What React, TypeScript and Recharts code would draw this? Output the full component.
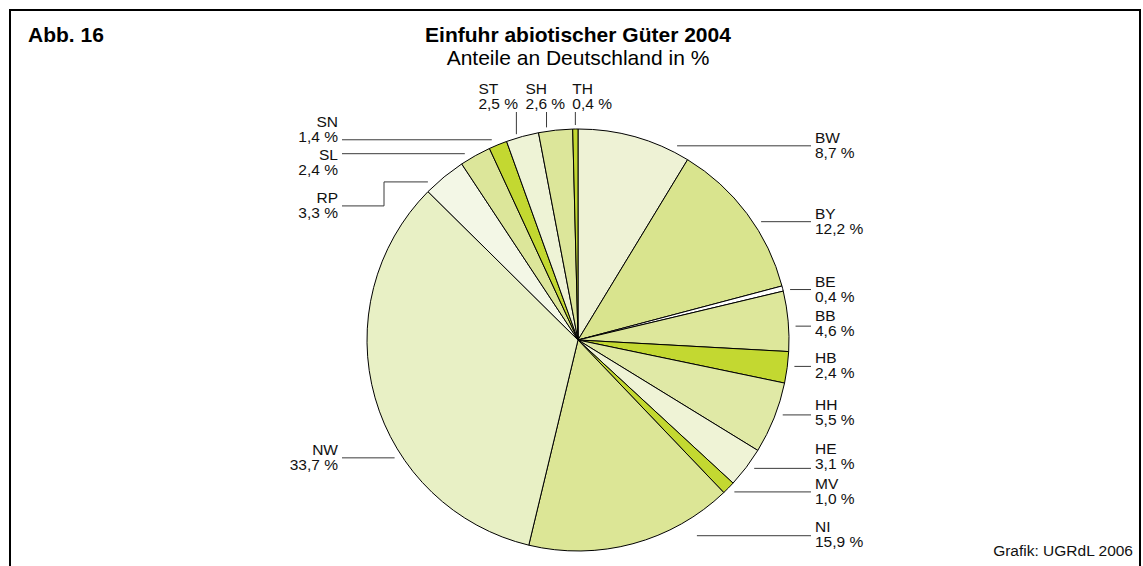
import { PieChart, Pie, Cell } from "recharts";

// Anteile der Länder an der Einfuhr abiotischer Güter 2004, in %
const regions = ["BW", "BY", "BE", "BB", "HB", "HH", "HE", "MV", "NI", "NW", "RP", "SL", "SN", "ST", "SH", "TH"];
const shares = [8.7, 12.2, 0.4, 4.6, 2.4, 5.5, 3.1, 1.0, 15.9, 33.7, 3.3, 2.4, 1.4, 2.5, 2.6, 0.4];
const sliceColors = [
  "#eef2d5", "#d9e48e", "#ffffff", "#dde79b", "#c3d831", "#e0e9a6", "#eff3d6", "#c3d831",
  "#dce696", "#e8f0c5", "#f3f7e6", "#dce69a", "#c3d831", "#eef3d6", "#dce69a", "#c3d831",
];

const figNo = "Abb. 16";
const title = "Einfuhr abiotischer Güter 2004";
const subtitle = "Anteile an Deutschland in %";
const source = "Grafik: UGRdL 2006";

const data = regions.map((name, i) => ({ name, value: shares[i] }));

// hand placement of the labels, like the original (px)
const nudge: Record<string, { dy?: number; ty?: number; gap?: number; dx?: number; tx?: number; elbow?: number }> = {
  BW: { dy: 9 },
  BY: { dy: 8 },
  BE: { dy: 1 },
  BB: { dy: 5, ty: -5 },
  HB: { dy: -1 },
  HH: { dy: -3, ty: -5 },
  HE: { dy: 1, ty: -14 },
  MV: { dy: 4 },
  NI: { dy: -8, gap: 18, ty: -4 },
  NW: { dy: 60 },
  RP: { dy: 29, elbow: 194 },
  SL: { dy: -2, ty: 6 },
  SN: { dy: -5, ty: -13 },
  ST: { dx: -6, tx: -38 },
  SH: { dx: -9, tx: -21 },
  TH: { dx: 0, tx: -3 },
};

const RAD = Math.PI / 180;
const FONT = "'Liberation Sans', Arial, sans-serif";
const LINE = "#3a3a3a";

const fmt = (v: number) => `${v.toFixed(1).replace(".", ",")} %`;

const renderLabel = (p: any) => {
  const { cx, cy, midAngle, outerRadius } = p;
  const name: string = p.name ?? p.payload?.name;
  const i = regions.indexOf(name);
  const n = nudge[name] || {};
  const ta = (((90 - midAngle) % 360) + 360) % 360; // clockwise from 12 o'clock
  const ax = cx + outerRadius * Math.sin(ta * RAD);
  const ay = cy - outerRadius * Math.cos(ta * RAD);
  const textStyle = { fontFamily: FONT, fontSize: 15.5, fill: "#111" };

  if (ta > 341) {
    // labels above the pie
    const lx = ax + (n.dx ?? 0);
    const edge = cy - Math.sqrt(Math.max(outerRadius * outerRadius - (lx - cx) ** 2, 0));
    const tx = lx + (n.tx ?? 0);
    const base = cy - outerRadius - 35;
    return (
      <g key={`l-${name}`}>
        <line x1={lx} x2={lx} y1={cy - outerRadius - 17} y2={edge - 4} stroke={LINE} strokeWidth={1} />
        <text x={tx} y={base} style={textStyle}>{name}</text>
        <text x={tx} y={base + 15} style={textStyle}>{fmt(shares[i])}</text>
      </g>
    );
  }

  const right = ta < 180;
  const lineY = ay + (n.dy ?? 0);
  const r2 = outerRadius + (n.gap ?? 7);
  const textX = right ? cx + 237 : cx - 240;
  const ty = n.ty ?? -3;

  let points: string;
  if (n.elbow) {
    const y0 = ay + 5;
    const dx0 = Math.sqrt(Math.max(r2 * r2 - (y0 - cy) ** 2, 0));
    const ex = cx - n.elbow;
    points = `${cx - dx0},${y0} ${ex},${y0} ${ex},${lineY} ${textX + 4},${lineY}`;
  } else {
    const dx = Math.sqrt(Math.max(r2 * r2 - (lineY - cy) ** 2, 0));
    points = right
      ? `${cx + dx},${lineY} ${textX - 4},${lineY}`
      : `${textX + 4},${lineY} ${cx - dx},${lineY}`;
  }

  return (
    <g key={`l-${name}`}>
      <polyline points={points} fill="none" stroke={LINE} strokeWidth={1} />
      <text x={textX} y={lineY + ty} textAnchor={right ? "start" : "end"} style={textStyle}>{name}</text>
      <text x={textX} y={lineY + ty + 15} textAnchor={right ? "start" : "end"} style={textStyle}>{fmt(shares[i])}</text>
    </g>
  );
};

export default function App() {
  return (
    <div style={{ position: "fixed", left: 0, top: 0, width: 1143, height: 566, background: "#fff", overflow: "hidden" }}>
      <div
        style={{
          position: "absolute", left: 9, top: 9, width: 1132, height: 600, boxSizing: "border-box",
          borderTop: "2px solid #000", borderLeft: "2px solid #000", borderRight: "2px solid #000",
        }}
      />
      <svg width={1143} height={566} style={{ position: "absolute", left: 0, top: 0 }}>
        <text x={28} y={42} style={{ fontFamily: FONT, fontSize: 21, fontWeight: 700, fill: "#000" }}>{figNo}</text>
        <text x={578} y={42} textAnchor="middle" style={{ fontFamily: FONT, fontSize: 21, fontWeight: 700, fill: "#000" }}>{title}</text>
        <text x={578} y={65} textAnchor="middle" style={{ fontFamily: FONT, fontSize: 21, fill: "#000" }}>{subtitle}</text>
        <text x={1133} y={556} textAnchor="end" style={{ fontFamily: FONT, fontSize: 15.5, fill: "#111" }}>{source}</text>
      </svg>
      <div style={{ position: "absolute", left: 0, top: 0 }}>
        <PieChart width={1143} height={566} margin={{ top: 0, right: 0, bottom: 0, left: 0 }}>
          <Pie
            data={data}
            dataKey="value"
            nameKey="name"
            cx={578}
            cy={340}
            outerRadius={211}
            startAngle={90}
            endAngle={-270}
            stroke="#000"
            strokeWidth={1}
            label={renderLabel}
            labelLine={false}
            isAnimationActive={false}
          >
            {data.map((d, i) => (
              <Cell key={d.name} fill={sliceColors[i]} />
            ))}
          </Pie>
        </PieChart>
      </div>
    </div>
  );
}
